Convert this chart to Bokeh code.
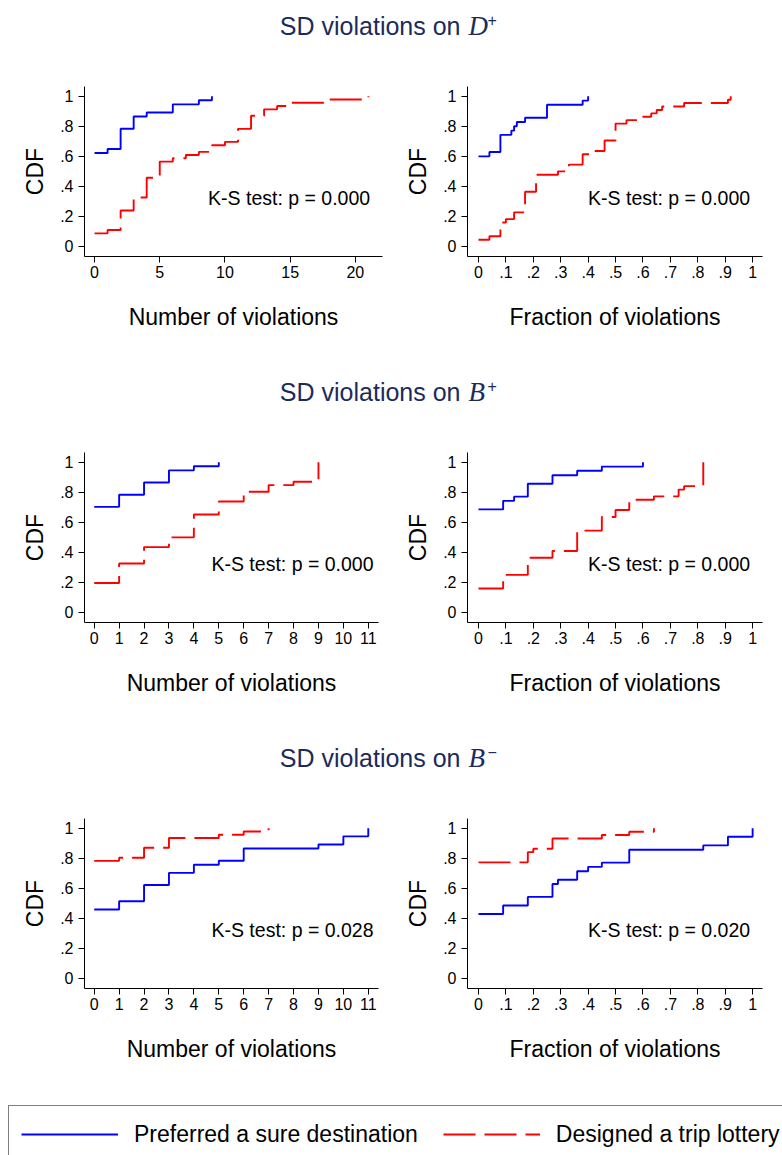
from bokeh.plotting import figure
from bokeh.layouts import column, row
from bokeh.models import FixedTicker, Label, Legend, LegendItem, Range1d
from bokeh.core.properties import value
from bokeh.embed import file_html
from bokeh.resources import INLINE

# ---------------- data ----------------
# Row 1: SD violations on D+
dp_num_sure_x = [0, 1, 2, 3, 4, 6, 8, 9]
dp_num_sure_y = [0.622, 0.649, 0.784, 0.865, 0.892, 0.946, 0.973, 1.0]
dp_num_lott_x = [0, 1, 2, 3, 4, 5, 6, 7, 8, 9, 10, 11, 12, 13, 14, 15, 18, 21]
dp_num_lott_y = [0.087, 0.109, 0.239, 0.326, 0.457, 0.565, 0.587, 0.609, 0.630,
                 0.674, 0.696, 0.783, 0.870, 0.913, 0.935, 0.957, 0.978, 1.0]
dp_frac_sure_x = [0, 0.04, 0.08, 0.12, 0.13, 0.14, 0.17, 0.25, 0.38, 0.40]
dp_frac_sure_y = [0.600, 0.629, 0.743, 0.771, 0.800, 0.829, 0.857, 0.943, 0.971, 1.0]
dp_frac_lott_x = [0, 0.04, 0.08, 0.10, 0.13, 0.17, 0.21, 0.29, 0.33, 0.38, 0.42,
                  0.46, 0.50, 0.54, 0.58, 0.63, 0.65, 0.67, 0.75, 0.91, 0.92]
dp_frac_lott_y = [0.045, 0.068, 0.159, 0.182, 0.227, 0.364, 0.477, 0.500, 0.545,
                  0.614, 0.636, 0.705, 0.818, 0.841, 0.864, 0.886, 0.909, 0.932,
                  0.955, 0.977, 1.0]

# Row 2: SD violations on B+
bp_num_sure_x = [0, 1, 2, 3, 4, 5]
bp_num_sure_y = [0.703, 0.784, 0.865, 0.946, 0.973, 1.0]
bp_num_lott_x = [0, 1, 2, 3, 4, 5, 6, 7, 8, 9]
bp_num_lott_y = [0.196, 0.326, 0.435, 0.500, 0.652, 0.739, 0.804, 0.848, 0.870, 1.0]
bp_frac_sure_x = [0, 0.09, 0.13, 0.18, 0.27, 0.36, 0.45, 0.60]
bp_frac_sure_y = [0.686, 0.743, 0.771, 0.857, 0.914, 0.943, 0.971, 1.0]
bp_frac_lott_x = [0, 0.09, 0.18, 0.27, 0.36, 0.45, 0.50, 0.55, 0.64, 0.73, 0.75, 0.82]
bp_frac_lott_y = [0.159, 0.250, 0.364, 0.409, 0.545, 0.636, 0.682, 0.750, 0.773,
                  0.818, 0.841, 1.0]

# Row 3: SD violations on B-
bm_num_sure_x = [0, 1, 2, 3, 4, 5, 6, 9, 10, 11]
bm_num_sure_y = [0.459, 0.514, 0.622, 0.703, 0.757, 0.784, 0.865, 0.892, 0.946, 1.0]
bm_num_lott_x = [0, 1, 2, 3, 5, 6, 7]
bm_num_lott_y = [0.783, 0.804, 0.870, 0.935, 0.957, 0.978, 1.0]
bm_frac_sure_x = [0, 0.09, 0.18, 0.27, 0.29, 0.36, 0.40, 0.45, 0.55, 0.82, 0.91, 1.0]
bm_frac_sure_y = [0.429, 0.486, 0.543, 0.629, 0.657, 0.714, 0.743, 0.771, 0.857,
                  0.886, 0.943, 1.0]
bm_frac_lott_x = [0, 0.18, 0.20, 0.27, 0.45, 0.55, 0.64]
bm_frac_lott_y = [0.773, 0.841, 0.864, 0.932, 0.955, 0.977, 1.0]

row_symbols = ["D", "B", "B"]
row_signs = ["+", "+", "\u2212"]
ks_pvalues = [["0.000", "0.000"], ["0.000", "0.000"], ["0.028", "0.020"]]

y_ticks = [0, 0.2, 0.4, 0.6, 0.8, 1]
y_tick_labels = ["0", ".2", ".4", ".6", ".8", "1"]
num20_ticks = [0, 5, 10, 15, 20]
num20_labels = ["0", "5", "10", "15", "20"]
num11_ticks = list(range(0, 12))
num11_labels = [str(v) for v in range(0, 12)]
frac_ticks = [0, 0.1, 0.2, 0.3, 0.4, 0.5, 0.6, 0.7, 0.8, 0.9, 1]
frac_labels = ["0", ".1", ".2", ".3", ".4", ".5", ".6", ".7", ".8", ".9", "1"]

legend_labels = ["Preferred a sure destination", "Designed a trip lottery"]

# ---------------- styling ----------------
FONT = "Liberation Sans"
SERIF = "Liberation Serif"
BLUE = "#0000ff"
RED = "#ff0000"
NAVY = "#1c2b5c"
W = 782
HALF = 391
TITLE_H = 60
PANEL_H = 306
FRAME_TOP = 26
FRAME_H = 170
Y_RANGE = (-0.067, 1.065)
DASH = "32 9"
LW = 1.9


def panel(sx, sy, lx, ly, xr, xt, xl, xtitle, pval, left, frame_w):
    p = figure(width=HALF, height=PANEL_H,
               x_range=Range1d(*xr), y_range=Range1d(*Y_RANGE),
               output_backend="svg", toolbar_location=None,
               min_border_left=left, min_border_right=HALF - left - frame_w,
               min_border_top=FRAME_TOP,
               min_border_bottom=PANEL_H - FRAME_TOP - FRAME_H)
    p.outline_line_color = None
    p.grid.visible = False
    p.background_fill_color = "white"
    p.border_fill_color = "white"

    p.step(sx, sy, mode="after", line_color=BLUE, line_width=LW)
    p.step(lx, ly, mode="after", line_color=RED, line_width=LW, line_dash=DASH)

    for ax in (p.xaxis[0], p.yaxis[0]):
        ax.axis_line_color = "black"
        ax.axis_line_width = 1
        ax.major_tick_line_color = "black"
        ax.major_tick_out = 6
        ax.major_tick_in = 0
        ax.minor_tick_line_color = None
        ax.major_label_text_font = FONT
        ax.major_label_text_font_size = "16px"
        ax.major_label_text_color = "black"
        ax.axis_label_text_font = FONT
        ax.axis_label_text_font_size = "23px"
        ax.axis_label_text_font_style = "normal"
        ax.axis_label_text_color = "black"

    xa = p.xaxis[0]
    xa.ticker = FixedTicker(ticks=xt)
    xa.major_label_overrides = dict(zip(xt, xl))
    xa.major_label_standoff = 3
    xa.axis_label = xtitle
    xa.axis_label_standoff = 23

    ya = p.yaxis[0]
    ya.ticker = FixedTicker(ticks=y_ticks)
    ya.major_label_overrides = dict(zip(y_ticks, y_tick_labels))
    ya.major_label_standoff = 5
    ya.axis_label = "CDF"
    ya.axis_label_standoff = 9

    inset = 12.4 if frame_w > 294 else 5.0
    kx = xr[1] - inset * (xr[1] - xr[0]) / frame_w
    p.add_layout(Label(x=kx, y=0.325, text="K-S test: p = " + pval,
                       text_align="right", text_baseline="middle",
                       text_font=FONT, text_font_size="19.5px",
                       text_color="black"))
    return p


def title_fig(sym, sign):
    t = figure(width=W, height=TITLE_H, x_range=Range1d(0, W),
               y_range=Range1d(TITLE_H, 0), output_backend="svg",
               toolbar_location=None, min_border=0)
    t.axis.visible = False
    t.grid.visible = False
    t.outline_line_color = None
    anchor = 460
    t.text(x=[anchor], y=[25], text=["SD violations on"], text_align="right",
           text_baseline="middle", text_font=value(FONT),
           text_font_size="25px", text_color=NAVY)
    t.text(x=[anchor + 8], y=[25], text=[sym], text_align="left",
           text_baseline="middle", text_font=value(SERIF),
           text_font_style="italic", text_font_size="27px", text_color=NAVY)
    t.text(x=[anchor + 27], y=[19], text=[sign], text_align="left",
           text_baseline="middle", text_font=value(FONT),
           text_font_size="16px", text_color=NAVY)
    return t


NUM_L = (-0.77, 22.08)
NUM11_L = (-0.39, 11.41)
FRAC_R = (-0.04, 1.036)

rows_spec = [
    (dp_num_sure_x, dp_num_sure_y, dp_num_lott_x, dp_num_lott_y, NUM_L, num20_ticks, num20_labels, 298,
     dp_frac_sure_x, dp_frac_sure_y, dp_frac_lott_x, dp_frac_lott_y),
    (bp_num_sure_x, bp_num_sure_y, bp_num_lott_x, bp_num_lott_y, NUM11_L, num11_ticks, num11_labels, 294,
     bp_frac_sure_x, bp_frac_sure_y, bp_frac_lott_x, bp_frac_lott_y),
    (bm_num_sure_x, bm_num_sure_y, bm_num_lott_x, bm_num_lott_y, NUM11_L, num11_ticks, num11_labels, 294,
     bm_frac_sure_x, bm_frac_sure_y, bm_frac_lott_x, bm_frac_lott_y),
]

blocks = []
for i, spec in enumerate(rows_spec):
    (nsx, nsy, nlx, nly, nxr, nxt, nxl, nfw, fsx, fsy, flx, fly) = spec
    left = panel(nsx, nsy, nlx, nly, nxr, nxt, nxl, "Number of violations",
                 ks_pvalues[i][0], 84, nfw)
    right = panel(fsx, fsy, flx, fly, FRAC_R, frac_ticks, frac_labels,
                  "Fraction of violations", ks_pvalues[i][1], 76, 295)
    blocks.append(title_fig(row_symbols[i], row_signs[i]))
    blocks.append(row(left, right, spacing=0))

# ---------------- legend ----------------
# The legend renderers reuse the first panel's series; the frame is kept away
# from the data so that only the legend samples are visible.
LEG_H = 1155 - 3 * (TITLE_H + PANEL_H)
lg = figure(width=W, height=LEG_H, x_range=Range1d(-10, -9), y_range=Range1d(0, 1),
            output_backend="svg", toolbar_location=None, min_border=0)
lg.axis.visible = False
lg.grid.visible = False
lg.outline_line_color = None
r_sure = lg.step(dp_num_sure_x, dp_num_sure_y, mode="after",
                 line_color=BLUE, line_width=LW)
r_lott = lg.step(dp_num_lott_x, dp_num_lott_y, mode="after",
                 line_color=RED, line_width=LW, line_dash=DASH)
legend = Legend(items=[LegendItem(label=legend_labels[0], renderers=[r_sure]),
                       LegendItem(label=legend_labels[1], renderers=[r_lott])],
                orientation="horizontal", location=(8, -8),
                border_line_color="black", border_line_width=1.2,
                label_text_font=FONT, label_text_font_size="23px",
                label_text_color="black",
                glyph_width=97, glyph_height=32, label_height=32,
                label_standoff=16, spacing=25, padding=12, margin=0,
                background_fill_color="white", background_fill_alpha=1)
lg.add_layout(legend)
blocks.append(lg)

page = column(*blocks, spacing=0)
open("out.html", "w").write(file_html(page, INLINE))
